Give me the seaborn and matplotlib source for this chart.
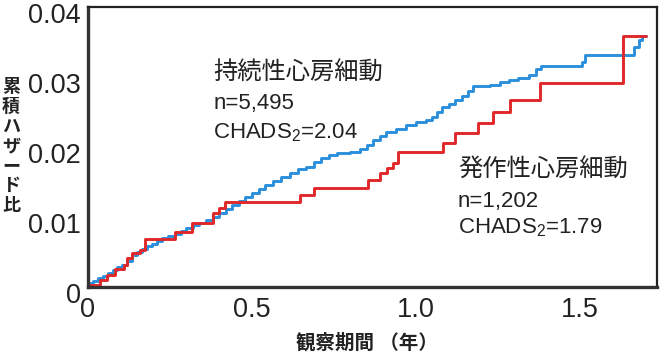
import matplotlib
matplotlib.use("Agg")
import numpy as np
import pandas as pd
import matplotlib.pyplot as plt
import matplotlib.transforms as mtransforms
import seaborn as sns

# 持続性心房細動 (blue) - cumulative hazard
persistent_t = [0.000, 0.015, 0.030, 0.045, 0.060, 0.075, 0.090, 0.105, 0.120, 0.135,
                0.150, 0.165, 0.180, 0.195, 0.210, 0.225, 0.245, 0.265, 0.285, 0.300,
                0.320, 0.340, 0.360, 0.380, 0.400, 0.420, 0.440, 0.460, 0.480, 0.500,
                0.520, 0.540, 0.565, 0.590, 0.615, 0.640, 0.665, 0.690, 0.710, 0.735,
                0.760, 0.800, 0.830, 0.850, 0.870, 0.890, 0.910, 0.940, 0.970, 1.000,
                1.030, 1.050, 1.065, 1.080, 1.100, 1.120, 1.140, 1.160, 1.175, 1.225,
                1.255, 1.285, 1.310, 1.345, 1.365, 1.380, 1.505, 1.515, 1.665, 1.680,
                1.690, 1.700]
persistent_h = [0.0006, 0.0009, 0.0013, 0.0016, 0.0020, 0.0024, 0.0028, 0.0032, 0.0037, 0.0045,
                0.0050, 0.0054, 0.0058, 0.0062, 0.0066, 0.0070, 0.0073, 0.0076, 0.0080, 0.0084,
                0.0088, 0.0092, 0.0096, 0.0100, 0.0106, 0.0111, 0.0117, 0.0123, 0.0128, 0.0134,
                0.0140, 0.0145, 0.0151, 0.0157, 0.0163, 0.0168, 0.0172, 0.0179, 0.0184, 0.0189,
                0.0191, 0.0193, 0.0197, 0.0203, 0.0210, 0.0216, 0.0222, 0.0226, 0.0231, 0.0235,
                0.0239, 0.0243, 0.0250, 0.0257, 0.0262, 0.0267, 0.0273, 0.0280, 0.0287, 0.0289,
                0.0293, 0.0296, 0.0298, 0.0303, 0.0312, 0.0316, 0.0322, 0.0331, 0.0343, 0.0353,
                0.0359, 0.0359]

# 発作性心房細動 (red)
paroxysmal_t = [0.000, 0.037, 0.057, 0.082, 0.110, 0.118, 0.133, 0.159, 0.175, 0.265,
                0.316, 0.381, 0.400, 0.418, 0.646, 0.688, 0.854, 0.890, 0.911, 0.930,
                0.945, 1.083, 1.119, 1.190, 1.236, 1.287, 1.378, 1.632, 1.700]
paroxysmal_h = [0.0003, 0.0010, 0.0017, 0.0025, 0.0031, 0.0041, 0.0048, 0.0053, 0.0068, 0.0079,
                0.0092, 0.0105, 0.0113, 0.0122, 0.0131, 0.0141, 0.0153, 0.0163, 0.0170, 0.0177,
                0.0193, 0.0205, 0.0220, 0.0234, 0.0250, 0.0267, 0.0291, 0.0359, 0.0359]

groups = ["持続性心房細動", "発作性心房細動"]
colors = ["#2b8fdc", "#e0282a"]

x_ticks = [0, 0.5, 1.0, 1.5]
x_tick_labels = ["0", "0.5", "1.0", "1.5"]
y_ticks = [0, 0.01, 0.02, 0.03, 0.04]
y_tick_labels = ["0", "0.01", "0.02", "0.03", "0.04"]

df = pd.concat([
    pd.DataFrame({"t": persistent_t, "h": persistent_h, "group": groups[0]}),
    pd.DataFrame({"t": paroxysmal_t, "h": paroxysmal_h, "group": groups[1]}),
])

sns.set_style("white")
plt.rcParams["font.family"] = ["Liberation Sans", "Noto Sans CJK JP"]
plt.rcParams["mathtext.fontset"] = "custom"
plt.rcParams["mathtext.rm"] = "Liberation Sans"
plt.rcParams["mathtext.it"] = "Liberation Sans"

fig = plt.figure(figsize=(6.65, 3.6), dpi=100)
ax = fig.add_axes([0.1323, 0.2028, 0.8557, 0.7778])

sns.lineplot(data=df, x="t", y="h", hue="group", hue_order=groups, palette=colors,
             estimator=None, sort=False, drawstyle="steps-post", linewidth=2.1,
             legend=False, ax=ax)

ax.set_xlim(0, 1.735)
ax.set_ylim(0, 0.04)
ax.set_xticks(x_ticks)
ax.set_xticklabels(x_tick_labels)
ax.set_yticks(y_ticks)
ax.set_yticklabels(y_tick_labels)
ax.tick_params(axis="both", length=0, labelsize=19.5, colors="#222222")
ax.tick_params(axis="x", pad=7)
ax.tick_params(axis="y", pad=5)
ax.set_xlabel("")
ax.set_ylabel("")

# y labels sit a little below their gridline in the original
shift = mtransforms.ScaledTranslation(0, -6 / 100, fig.dpi_scale_trans)
for lbl in ax.get_yticklabels():
    lbl.set_transform(lbl.get_transform() + shift)

for side in ["left", "bottom"]:
    ax.spines[side].set_linewidth(2.4)
    ax.spines[side].set_color("#333333")
for side in ["top", "right"]:
    ax.spines[side].set_linewidth(1.6)
    ax.spines[side].set_color("#222222")

txt = "#222222"
ax.text(0.382, 0.0305, "持続性心房細動", fontsize=17.5, color=txt, va="center")
ax.text(0.382, 0.0262, "n=5,495", fontsize=16, color=txt, va="center")
ax.text(0.382, 0.0220, r"CHADS$_2$=2.04", fontsize=16, color=txt, va="center")
ax.text(1.128, 0.0167, "発作性心房細動", fontsize=17.5, color=txt, va="center")
ax.text(1.128, 0.0122, "n=1,202", fontsize=16, color=txt, va="center")
ax.text(1.128, 0.0085, r"CHADS$_2$=1.79", fontsize=16, color=txt, va="center")

fig.text(11 / 665, 1 - 147 / 360, "\n".join("累積ハザード比"), fontsize=13, color=txt,
         fontweight="bold", ha="center", va="center", linespacing=1.22)
fig.text(367 / 665, 1 - 343 / 360, "観察期間 （年）", fontsize=14, color=txt,
         fontweight="bold", ha="center", va="center")

plt.savefig("out.png", dpi=100)
plt.close()
